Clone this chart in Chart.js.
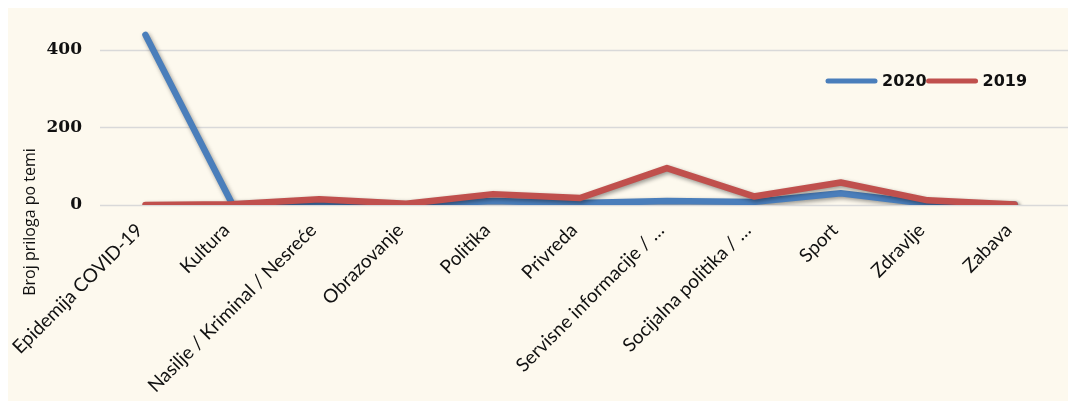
<!DOCTYPE html>
<html>
<head>
<meta charset="utf-8">
<script src="https://cdn.jsdelivr.net/npm/chart.js@4.4.1/dist/chart.umd.min.js"></script>
<style>
html,body{margin:0;padding:0;background:#ffffff;}
#wrap{width:1068px;height:407px;position:relative;}
</style>
</head>
<body>
<div id="wrap"><canvas id="c" width="1068" height="407"></canvas></div>
<script>
const categories = ["Epidemija COVID-19","Kultura","Nasilje / Kriminal / Nesreće","Obrazovanje","Politika","Privreda","Servisne informacije / …","Socijalna politika / …","Sport","Zdravlje","Zabava"];
const values2020 = [438, 2, 4, 1, 10, 5, 10, 8, 30, 3, 1];
const values2019 = [0, 2, 15, 3, 28, 18, 95, 22, 58, 12, 1];
const seriesLabels = ["2020","2019"];
const yTicks = [0, 200, 400];
const yTitle = "Broj priloga po temi";

const BLUE = "#4A7EBB", RED = "#C0504D";

const bgPlugin = {
  id: 'bg',
  beforeDraw(chart){
    const ctx = chart.ctx;
    ctx.save();
    ctx.fillStyle = '#ffffff';
    ctx.fillRect(0,0,chart.width,chart.height);
    ctx.fillStyle = '#FDF9EE';
    ctx.fillRect(8,8,chart.width-8,chart.height-14);
    ctx.restore();
  },
  beforeDatasetsDraw(chart){
    const ctx = chart.ctx, y = chart.scales.y;
    ctx.save();
    ctx.strokeStyle = '#D9D9D9';
    ctx.lineWidth = 1.5;
    yTicks.forEach(v=>{
      const py = Math.round(y.getPixelForValue(v))+0.5;
      ctx.beginPath(); ctx.moveTo(100,py); ctx.lineTo(chart.width,py); ctx.stroke();
    });
    ctx.restore();
    ctx.save();
    ctx.shadowColor = 'rgba(0,0,0,0.4)';
    ctx.shadowBlur = 4;
    ctx.shadowOffsetX = 1.5;
    ctx.shadowOffsetY = 2;
  },
  afterDatasetsDraw(chart){
    const ctx = chart.ctx;
    ctx.restore();
    // y title
    ctx.save();
    ctx.translate(30,222);
    ctx.rotate(-Math.PI/2);
    ctx.font = '16px "Open Sans"';
    ctx.fillStyle = '#111';
    ctx.textAlign = 'center';
    ctx.textBaseline = 'middle';
    ctx.fillText(yTitle,0,0);
    ctx.restore();
    // legend
    ctx.save();
    ctx.font = 'bold 16px "DejaVu Sans"';
    ctx.textBaseline = 'middle';
    ctx.lineCap = 'round';
    ctx.lineWidth = 5;
    let x = 828; const ly = 81;
    chart.data.datasets.forEach(ds=>{
      ctx.strokeStyle = ds.borderColor;
      ctx.beginPath(); ctx.moveTo(x,ly); ctx.lineTo(x+47,ly); ctx.stroke();
      x += 54;
      ctx.fillStyle = '#111';
      ctx.fillText(ds.label,x,ly+1);
      x += ctx.measureText(ds.label).width + 2;
    });
    ctx.restore();
  }
};

new Chart(document.getElementById('c'), {
  type: 'line',
  data: {
    labels: categories,
    datasets: [
      {label: seriesLabels[0], data: values2020, borderColor: BLUE, backgroundColor: BLUE, borderWidth: 6.5, pointRadius: 0, tension: 0, borderCapStyle: 'round', borderJoinStyle: 'round', order: 1},
      {label: seriesLabels[1], data: values2019, borderColor: RED, backgroundColor: RED, borderWidth: 6.5, pointRadius: 0, tension: 0, borderCapStyle: 'round', borderJoinStyle: 'round', order: 0}
    ]
  },
  options: {
    responsive: false,
    animation: false,
    layout: {padding: {left: 0, right: 10, top: 28, bottom: 0}},
    plugins: {legend: {display: false}, tooltip: {enabled: false}},
    scales: {
      x: {
        offset: true,
        grid: {display: false},
        border: {display: false},
        ticks: {
          minRotation: 45, maxRotation: 45, autoSkip: false, padding: 6, labelOffset: -6,
          color: '#111', font: {family: 'Lato', size: 19}
        },
        afterFit(scale){ scale.height = 202; scale.paddingLeft = 0; scale.paddingRight = 0; }
      },
      y: {
        min: 0, max: 450,
        afterBuildTicks(scale){ scale.ticks = yTicks.map(v=>({value:v})); },
        grid: {display: false, drawTicks: false},
        border: {display: false},
        ticks: {padding: 20, color: '#111', font: {family: '"DejaVu Serif"', size: 17, weight: 'bold'}},
        afterFit(scale){ scale.width = 102; }
      }
    }
  },
  plugins: [bgPlugin]
});
</script>
</body>
</html>
